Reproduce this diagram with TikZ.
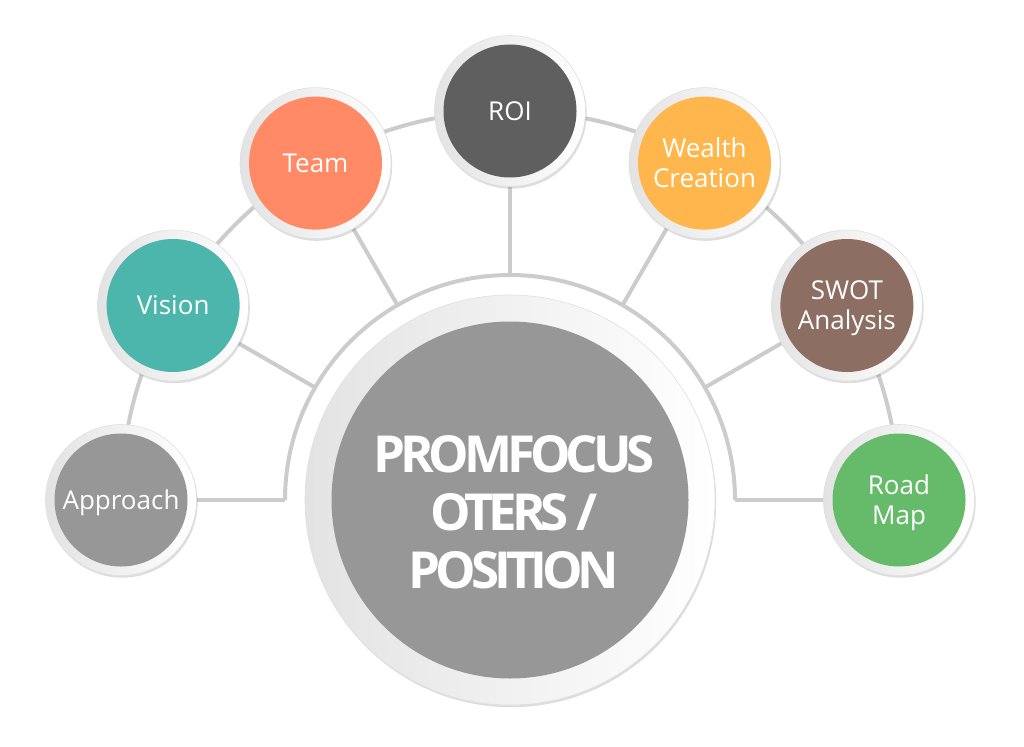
\documentclass[tikz,border=0pt]{standalone}
\usepackage{fontspec}
\setmainfont{Open Sans}
\newfontfamily\ctfont[LetterSpace=-10]{Open Sans}
\usetikzlibrary{calc,shadows}
\definecolor{lineg}{HTML}{CCCCCC}
\definecolor{cgrey}{HTML}{979797}
\definecolor{cteal}{HTML}{4DB6AC}
\definecolor{csalmon}{HTML}{FF8A65}
\definecolor{cdark}{HTML}{5F5F5F}
\definecolor{corange}{HTML}{FFB74D}
\definecolor{cbrown}{HTML}{8D6E63}
\definecolor{cgreen}{HTML}{66BB6A}
\begin{document}
\begin{tikzpicture}[x=1pt,y=1pt,
  conn/.style={draw=lineg, line width=4pt},
  ringbase/.style={circle, inner sep=0pt, left color=black!11, right color=white,
    shading angle=90, draw=black!12, line width=0.6pt,
    drop shadow={shadow xshift=1.2pt, shadow yshift=-2.2pt, opacity=0.22, fill=black!60}},
  satring/.style={ringbase, minimum size=151pt},
  satdisc/.style={circle, inner sep=0pt, minimum size=133pt, fill=#1},
  satlabel/.style={text=white, font=\fontsize{26}{30}\selectfont, align=center,
    text height=18.5pt, text depth=0pt, inner sep=0pt},
  bigring/.style={ringbase, minimum size=410pt},
  bigdisc/.style={circle, inner sep=0pt, minimum size=357pt, fill=cgrey}
]
\useasboundingbox (0,0) rectangle (1024,-746);
\coordinate (C) at (510,-500);
\foreach \a in {0,30,...,180}{
  \coordinate (i\a) at ($(C)+(\a:225)$);
  \coordinate (s\a) at ($(C)+(\a:389)$);
}
% connectors
\draw[conn] (i180) arc (180:0:225);
\draw[conn] (s180) arc (180:0:389);
\foreach \a in {0,30,...,180}{
  \draw[conn] (i\a) -- (s\a);
}
% central
\node[bigring] (cring) at (C) {};
\node[bigdisc] (cdisc) at (C) {};
\node[font=\ctfont\fontsize{51}{58}\selectfont\bfseries, text=white, align=center] (ctext) at (514,-512) {PROMFOCUS\\OTERS /\\POSITION};
% satellites
\foreach \a/\col/\txt/\nm/\sh in {180/cgrey/Approach/approach/0, 150/cteal/Vision/vision/0, 120/csalmon/Team/team/0, 90/cdark/ROI/roi/0, 60/corange/Wealth\\Creation/wealth/-15, 30/cbrown/SWOT\\Analysis/swot/-15, 0/cgreen/Road\\Map/road/-15}{
  \node[satring] (\nm ring) at (s\a) {};
  \node[satdisc=\col] (\nm) at (s\a) {};
  \node[satlabel, yshift=\sh pt] (\nm label) at (s\a) {\txt};
}
\end{tikzpicture}
\end{document}
